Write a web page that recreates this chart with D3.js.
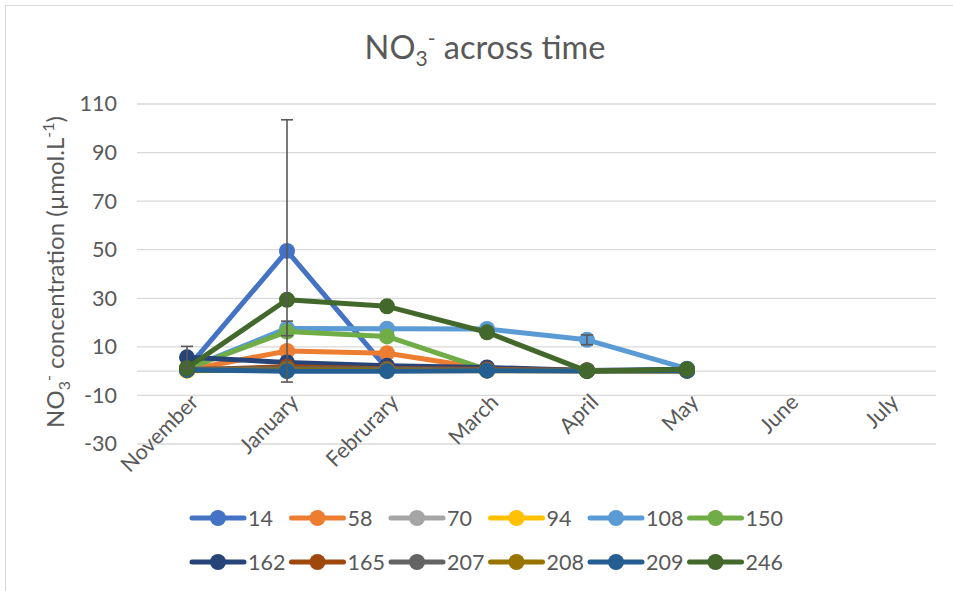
<!DOCTYPE html>
<html>
<head>
<meta charset="utf-8">
<script src="https://cdn.jsdelivr.net/npm/d3@7/dist/d3.min.js"></script>
<style>
  html, body { margin: 0; padding: 0; background: #ffffff; }
  svg { display: block; }
  text { font-family: Lato, "Open Sans", sans-serif; fill: #595959; }
</style>
</head>
<body>
<svg id="chart" width="953" height="591"></svg>
<script>
// ---------- data ----------
const categories = ["November", "January", "Februrary", "March", "April", "May", "June", "July"];
const yTicks = [-30, -10, 10, 30, 50, 70, 90, 110];

const seriesNames = ["14", "58", "70", "94", "108", "150", "162", "165", "207", "208", "209", "246"];
const seriesColors = ["#4472C4", "#ED7D31", "#A5A5A5", "#FFC000", "#5B9BD5", "#70AD47",
                      "#264478", "#9E480E", "#636363", "#997300", "#255E91", "#43682B"];

// values for November .. May
const s14  = [1.0, 49.5, 1.0, 0.5, 0.3, 0.2];
const s58  = [0.5, 8.3, 7.4, 1.0, 0.3, 0.1];
const s70  = [0.3, 0.5, 0.3, 0.3, 0.2, 0.2];
const s94  = [0.2, 0.4, 0.3, 0.2, 0.2, 0.2];
const s108 = [1.0, 17.6, 17.5, 17.4, 12.9, 1.0];
const s150 = [1.0, 16.3, 14.3, 0.6, 0.3, 0.3];
const s162 = [5.7, 3.6, 2.2, 1.5, 0.3, 0.8];
const s165 = [0.5, 1.8, 1.0, 0.8, 0.3, 0.2];
const s207 = [0.8, 1.0, 0.8, 0.5, 0.3, 0.3];
const s208 = [0.3, 0.5, 0.4, 0.3, 0.2, 0.2];
const s209 = [0.5, 0.0, 0.0, 0.2, 0.1, 0.2];
const s246 = [1.3, 29.4, 26.7, 16.0, 0.0, 0.8];
const seriesValues = [s14, s58, s70, s94, s108, s150, s162, s165, s207, s208, s209, s246];

// error bars (+/-) : series name, category, error
const errSeries   = ["14", "162", "108", "108"];
const errCategory = ["January", "November", "January", "April"];
const errAmount   = [54.0, 4.5, 3.0, 2.0];

// ---------- layout ----------
const svg = d3.select("#chart");
const plot = { left: 137, right: 937, top: 104, bottom: 444 };

// chart border (top & left visible)
svg.append("rect")
  .attr("x", 5.5).attr("y", 5.5).attr("width", 1000).attr("height", 700)
  .attr("fill", "none").attr("stroke", "#d9d9d9").attr("stroke-width", 1);

const x = d3.scalePoint().domain(categories).range([plot.left, plot.right]).padding(0.5);
const y = d3.scaleLinear().domain([-30, 110]).range([plot.bottom, plot.top]);

// gridlines
svg.append("g").selectAll("line").data(yTicks).join("line")
  .attr("x1", plot.left).attr("x2", plot.right - 1)
  .attr("y1", d => y(d)).attr("y2", d => y(d))
  .attr("stroke", "#d9d9d9").attr("stroke-width", 1.3);

// y axis labels
const yAxis = svg.append("g").attr("transform", `translate(${plot.left},0)`)
  .call(d3.axisLeft(y).tickValues(yTicks).tickSize(0).tickPadding(20).tickFormat(d => String(d)));
yAxis.select(".domain").remove();
yAxis.selectAll("text").attr("font-size", 21.5).style("font-family", "Lato, sans-serif").attr("fill", "#595959");

// zero axis line
svg.append("line")
  .attr("x1", plot.left).attr("x2", plot.right - 1)
  .attr("y1", y(0)).attr("y2", y(0))
  .attr("stroke", "#d9d9d9").attr("stroke-width", 1.3);

// x axis labels (rotated)
const xAxis = svg.append("g").attr("transform", `translate(0,${y(0)})`)
  .call(d3.axisBottom(x).tickSize(0).tickPadding(0));
xAxis.select(".domain").remove();
xAxis.selectAll("text")
  .attr("font-size", 21.5).style("font-family", "Lato, sans-serif").attr("fill", "#595959")
  .attr("text-anchor", "end")
  .attr("transform", "translate(7,27) rotate(-45)")
  .attr("y", 0).attr("dy", "0.35em");

// lines & markers
const line = d3.line().x((d, i) => x(categories[i])).y(d => y(d));
const gSeries = svg.append("g");
seriesValues.forEach((vals, si) => {
  const g = gSeries.append("g");
  g.append("path").datum(vals)
    .attr("d", line).attr("fill", "none")
    .attr("stroke", seriesColors[si]).attr("stroke-width", 5)
    .attr("stroke-linejoin", "round").attr("stroke-linecap", "round");
  g.selectAll("circle").data(vals).join("circle")
    .attr("cx", (d, i) => x(categories[i])).attr("cy", d => y(d))
    .attr("r", 8).attr("fill", seriesColors[si]);
});

// error bars
const gErr = svg.append("g").attr("stroke", "#595959").attr("stroke-width", 1.6);
errSeries.forEach((name, k) => {
  const si = seriesNames.indexOf(name);
  const ci = categories.indexOf(errCategory[k]);
  const v = seriesValues[si][ci];
  const cx = x(errCategory[k]);
  const yt = y(v + errAmount[k]), yb = y(v - errAmount[k]);
  gErr.append("line").attr("x1", cx).attr("x2", cx).attr("y1", yt).attr("y2", yb);
  gErr.append("line").attr("x1", cx - 6).attr("x2", cx + 6).attr("y1", yt).attr("y2", yt);
  gErr.append("line").attr("x1", cx - 6).attr("x2", cx + 6).attr("y1", yb).attr("y2", yb);
});

// title
const title = svg.append("text")
  .attr("x", 485).attr("y", 59).attr("text-anchor", "middle")
  .attr("font-size", 32.5).attr("fill", "#595959");
title.append("tspan").text("NO");
title.append("tspan").text("3").attr("font-size", 21).attr("dy", 7);
title.append("tspan").text("-").attr("font-size", 21).attr("dy", -20);
title.append("tspan").text(" across time").attr("dy", 13);

// y axis title
const yTitle = svg.append("text")
  .attr("transform", `translate(64,272) rotate(-90)`)
  .attr("text-anchor", "middle").attr("font-size", 24).attr("fill", "#595959");
yTitle.append("tspan").text("NO");
yTitle.append("tspan").text("3").attr("font-size", 16).attr("dy", 6);
yTitle.append("tspan").text("-").attr("font-size", 16).attr("dy", -16);
yTitle.append("tspan").text(" concentration (µmol.L").attr("dy", 10);
yTitle.append("tspan").text("-1").attr("font-size", 16).attr("dy", -10);
yTitle.append("tspan").text(")").attr("dy", 10);

// legend
const legend = svg.append("g");
const perRow = 6, entryW = 99.5, legX = 190, rowY = [518, 562];
seriesNames.forEach((name, i) => {
  const r = Math.floor(i / perRow), c = i % perRow;
  const gx = legX + c * entryW, gy = rowY[r];
  const g = legend.append("g").attr("transform", `translate(${gx},${gy})`);
  g.append("line").attr("x1", 2).attr("x2", 54).attr("y1", 0).attr("y2", 0)
    .attr("stroke", seriesColors[i]).attr("stroke-width", 5).attr("stroke-linecap", "round");
  g.append("circle").attr("cx", 28).attr("cy", 0).attr("r", 8).attr("fill", seriesColors[i]);
  g.append("text").attr("x", 58).attr("y", 0).attr("dy", "0.36em")
    .attr("font-size", 21.5).text(name);
});
</script>
</body>
</html>
